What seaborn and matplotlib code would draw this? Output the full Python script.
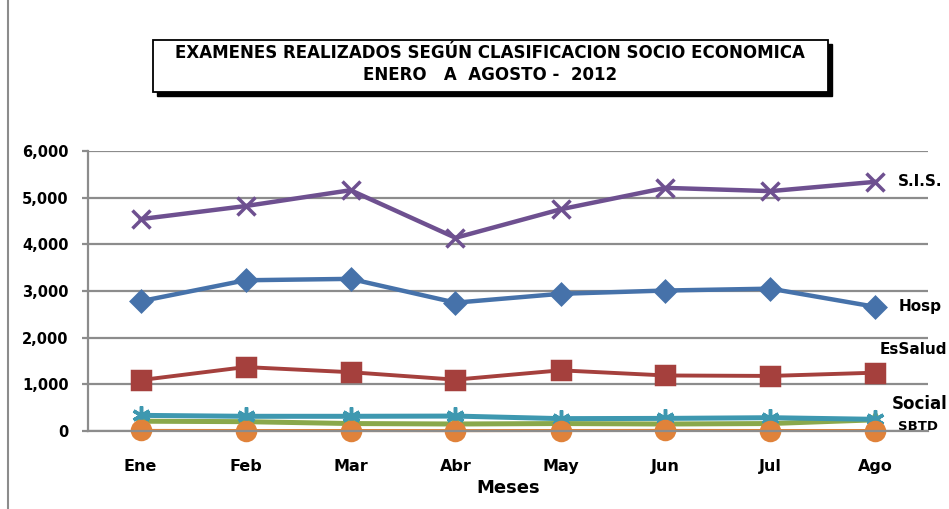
import matplotlib
matplotlib.use("Agg")
import matplotlib.pyplot as plt
import matplotlib.patches as mpatches
from matplotlib.lines import Line2D
import seaborn as sns

meses = ['Ene', 'Feb', 'Mar', 'Abr', 'May', 'Jun', 'Jul', 'Ago']

hosp = [2780, 3230, 3260, 2750, 2940, 3010, 3050, 2660]
essalud = [1090, 1370, 1260, 1100, 1300, 1190, 1180, 1250]
otros = [210, 200, 160, 150, 160, 150, 160, 240]
sis = [4540, 4820, 5160, 4140, 4750, 5210, 5140, 5340]
social = [335, 315, 315, 320, 265, 270, 285, 250]
sbtd = [12, 10, 10, 8, 10, 12, 10, 10]

yticks = [0, 1000, 2000, 3000, 4000, 5000, 6000]

sns.set_style("white")
plt.rcParams['font.family'] = ['DejaVu Sans']
plt.rcParams['text.color'] = 'black'
plt.rcParams['axes.labelcolor'] = 'black'

fig = plt.figure(figsize=(9.49, 5.09), dpi=100)
ax = fig.add_axes([88 / 949, 1 - 431 / 509, 840 / 949, 280 / 509])

grid_c = '#8c8c8c'

# series in Excel drawing order: name, values, colour, marker, size, line width, label offset, font size
series = [
    ('Hosp', hosp, '#4672aa', 'D', 10, 3.2, (17, 0), 11),
    ('EsSalud', essalud, '#a5403d', 's', 13, 2.8, (3, 17), 11),
    ('Otros', otros, '#8aa84b', '^', 10, 3.6, None, 0),
    ('S.I.S.', sis, '#6e5090', 'x', 13, 3.2, (16, 0), 11),
    ('Social', social, '#3e98b0', (6, 2, 0), 13, 3.6, (12, 11), 12),
    ('SBTD', sbtd, '#e0823a', 'o', 13, 2.2, (16, 3), 9.5),
]

for name, vals, col, mk, ms, lw, off, fs in series:
    sns.lineplot(x=meses, y=vals, ax=ax, color=col, marker=mk, markersize=ms,
                 linewidth=lw, markeredgecolor=col, markerfacecolor=col,
                 markeredgewidth=2.5, sort=False, clip_on=False)
    if off is not None:
        ax.annotate(name, xy=(len(meses) - 1, vals[-1]), xytext=off,
                    textcoords='offset points', ha='left', va='center',
                    fontsize=fs, fontweight='bold', color='black')

ax.set_xlim(-0.5, len(meses) - 0.5)
ax.set_ylim(0, 6000)
ax.set_yticks(yticks)
ax.set_yticklabels([f'{v:,}' for v in yticks], fontsize=10.5, fontweight='bold')
ax.yaxis.grid(True, color=grid_c, linewidth=1.6)
ax.set_axisbelow(True)

ax.set_xticks(range(len(meses)))
ax.set_xticklabels(meses, fontsize=11.5, fontweight='bold')
ax.set_xticks([i - 0.5 for i in range(len(meses) + 1)], minor=True)
ax.tick_params(axis='x', which='major', length=0, pad=20, labelcolor='black')
ax.tick_params(axis='x', which='minor', length=4, width=1.6, color=grid_c, direction='out')
ax.tick_params(axis='y', length=4, width=1.6, color=grid_c, direction='out', pad=10,
               left=True, labelcolor='black')

for s in ['top', 'right']:
    ax.spines[s].set_visible(False)
for s in ['left', 'bottom']:
    ax.spines[s].set_color(grid_c)
    ax.spines[s].set_linewidth(1.6)

ax.set_xlabel('Meses', fontsize=13, fontweight='bold', labelpad=4, color='black')
ax.set_ylabel('')

# title box with drop shadow
x0, y0, w, h = 153 / 949, 1 - 92 / 509, 675 / 949, 52 / 509
shadow = mpatches.Rectangle((x0 + 4 / 949, y0 - 4 / 509), w, h, transform=fig.transFigure,
                            facecolor='black', edgecolor='black', zorder=1)
box = mpatches.Rectangle((x0, y0), w, h, transform=fig.transFigure,
                         facecolor='white', edgecolor='black', linewidth=1.3, zorder=2)
fig.add_artist(shadow)
fig.add_artist(box)
fig.text(490 / 949, 1 - 53 / 509, 'EXAMENES REALIZADOS SEGÚN CLASIFICACION SOCIO ECONOMICA',
         ha='center', va='center', fontsize=12, fontweight='bold', color='black', zorder=3)
fig.text(490 / 949, 1 - 75 / 509, 'ENERO   A  AGOSTO -  2012',
         ha='center', va='center', fontsize=12, fontweight='bold', color='black', zorder=3)

# outer chart border on the left
fig.add_artist(Line2D([8 / 949, 8 / 949], [0, 1], transform=fig.transFigure,
                      color='#8c8c8c', linewidth=1.5))

fig.savefig('out.png', dpi=100)
